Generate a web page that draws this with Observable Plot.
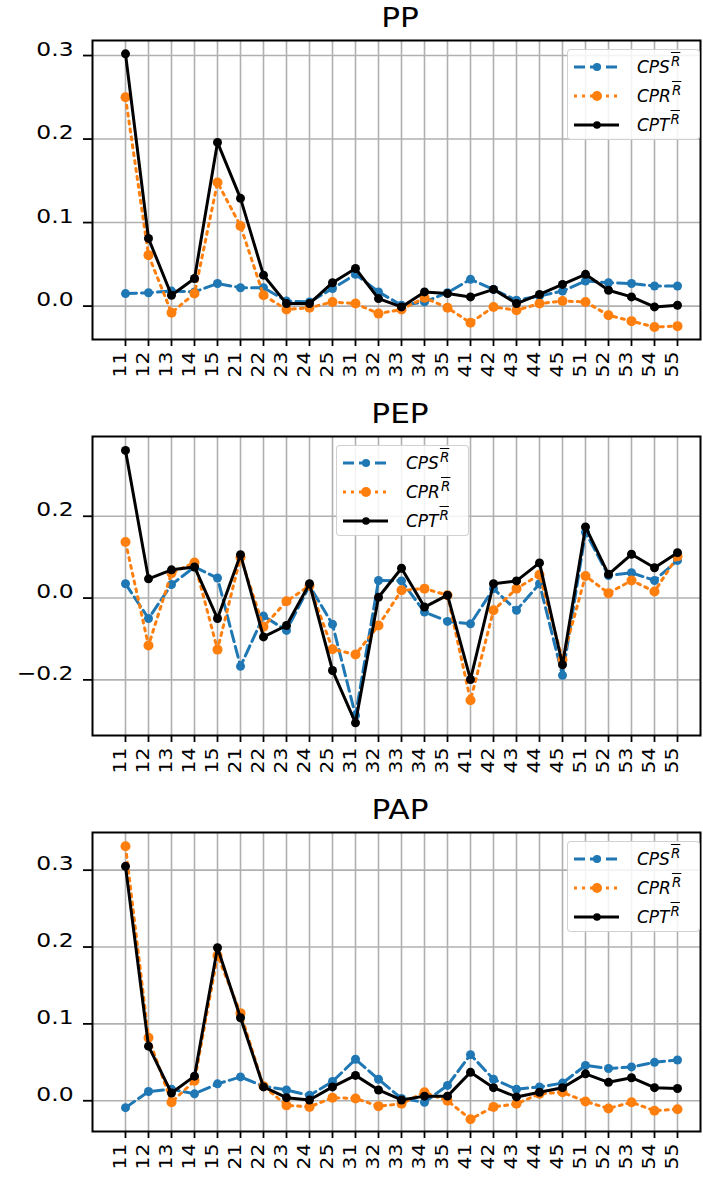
<!DOCTYPE html>
<html>
<head>
<meta charset="utf-8">
<script src="https://cdn.jsdelivr.net/npm/d3@7"></script>
<script src="https://cdn.jsdelivr.net/npm/@observablehq/plot@0.6"></script>
<style>
  body { margin: 0; background: white; font-family: "DejaVu Sans", sans-serif; }
  .panel { position: relative; width: 703px; height: 396px; }
  .panel svg { display: block; }
  .title { position: absolute; top: 3px; left: 300px; width: 200px; text-align: center;
           font-size: 26px; line-height: normal; transform: scaleX(1.2); color: #000; }
  .legend { position: absolute; width: 133px; height: 91px; box-sizing: border-box;
            border: 1px solid rgba(204,204,204,0.9); border-radius: 4px; background: rgba(255,255,255,0.85); }
  .legend svg { position: absolute; left: 0; top: 0; }
  .lrow { position: absolute; left: 69px; font-size: 17px; line-height: 20px; font-style: italic; white-space: nowrap; color: #000; }
  .lrow .sup { position: relative; top: -7px; font-size: 13.5px; text-decoration: overline; margin-left: 1px; }
</style>
</head>
<body>
<div id="root"></div>
<script>
const cats = ["11","12","13","14","15","21","22","23","24","25","31","32","33","34","35","41","42","43","44","45","51","52","53","54","55"];

const seriesNames = ["CPS", "CPR", "CPT"];
const seriesColors = ["#1f77b4", "#ff7f0e", "#000000"];

const ppCPS = [0.015,0.016,0.018,0.017,0.027,0.022,0.022,0.006,0.005,0.021,0.038,0.017,0.001,0.005,0.016,0.032,0.020,0.007,0.012,0.018,0.030,0.028,0.027,0.024,0.024];
const ppCPR = [0.250,0.061,-0.008,0.015,0.148,0.096,0.013,-0.004,-0.002,0.005,0.003,-0.009,-0.004,0.010,-0.002,-0.020,-0.001,-0.005,0.003,0.006,0.005,-0.011,-0.018,-0.025,-0.024];
const ppCPT = [0.302,0.081,0.013,0.033,0.196,0.129,0.037,0.003,0.003,0.028,0.045,0.009,-0.001,0.017,0.015,0.011,0.020,0.003,0.014,0.026,0.038,0.019,0.011,-0.001,0.001];

const pepCPS = [0.035,-0.050,0.033,0.076,0.049,-0.167,-0.044,-0.079,0.030,-0.064,-0.287,0.043,0.042,-0.034,-0.057,-0.063,0.023,-0.030,0.035,-0.189,0.161,0.055,0.062,0.043,0.092];
const pepCPR = [0.137,-0.116,0.061,0.087,-0.126,0.100,-0.070,-0.008,0.030,-0.125,-0.138,-0.067,0.019,0.023,0.007,-0.250,-0.030,0.023,0.057,-0.150,0.054,0.012,0.043,0.016,0.102];
const pepCPT = [0.361,0.047,0.069,0.076,-0.050,0.106,-0.095,-0.067,0.035,-0.177,-0.305,0.002,0.073,-0.022,0.007,-0.199,0.035,0.042,0.086,-0.163,0.174,0.058,0.107,0.074,0.111];

const papCPS = [-0.009,0.012,0.015,0.009,0.022,0.031,0.019,0.014,0.007,0.025,0.054,0.028,0.003,-0.002,0.020,0.060,0.028,0.015,0.018,0.023,0.046,0.042,0.044,0.050,0.053];
const papCPR = [0.331,0.082,-0.002,0.026,0.189,0.114,0.019,-0.006,-0.008,0.004,0.003,-0.007,-0.004,0.011,0.000,-0.024,-0.008,-0.004,0.009,0.011,-0.001,-0.010,-0.002,-0.013,-0.011];
const papCPT = [0.305,0.071,0.010,0.032,0.199,0.108,0.018,0.004,0.001,0.018,0.033,0.014,0.001,0.006,0.006,0.037,0.017,0.005,0.011,0.017,0.035,0.024,0.030,0.017,0.016];

const titles = ["PP", "PEP", "PAP"];
const yDomains = [[-0.040, 0.318], [-0.336, 0.395], [-0.040, 0.349]];
const yTicks = [[0, 0.1, 0.2, 0.3], [-0.2, 0, 0.2], [0, 0.1, 0.2, 0.3]];
const legendLeft = [567, 336, 567];

const dashes = ["11,5", "3,5", null];
const dotR = [4.5, 5, 4.5];

function stretch(svg, label, s, fontSize) {
  const g = svg.querySelector(`g[aria-label="${label}"]`);
  if (!g) return;
  if (fontSize) g.setAttribute("font-size", fontSize);
  g.querySelectorAll("text").forEach(el => {
    let t = el.getAttribute("transform") || "";
    const x = el.getAttribute("x"), y = el.getAttribute("y");
    if (x != null || y != null) {
      t += ` translate(${+x || 0},${+y || 0})`;
      el.removeAttribute("x"); el.removeAttribute("y");
    }
    el.setAttribute("transform", `${t} scale(${s},1)`);
  });
}

function makePanel(idx, cps, cpr, cpt) {
  const all = [cps, cpr, cpt];
  const rows = all.map((arr, k) => cats.map((c, i) => ({c, v: arr[i], s: seriesNames[k]})));
  const marks = [
    Plot.gridX(cats, {stroke: "#b0b0b0", strokeOpacity: 1, strokeWidth: 1.6}),
    Plot.gridY(yTicks[idx], {stroke: "#b0b0b0", strokeOpacity: 1, strokeWidth: 1.6})
  ];
  rows.forEach((r, k) => {
    marks.push(Plot.line(r, {x: "c", y: "v", stroke: seriesColors[k], strokeWidth: 3,
      strokeDasharray: dashes[k] || undefined, strokeLinejoin: "round"}));
    marks.push(Plot.dot(r, {x: "c", y: "v", fill: seriesColors[k], r: dotR[k], stroke: "none"}));
  });
  marks.push(Plot.frame({stroke: "black", strokeWidth: 2}));
  marks.push(Plot.axisX({tickSize: 7, tickPadding: 5, tickRotate: -90, textAnchor: "end",
    label: null, strokeWidth: 1.8, tickFormat: d => d}));
  marks.push(Plot.axisY({ticks: yTicks[idx], tickSize: 9, tickPadding: 10, label: null,
    strokeWidth: 1.8, tickFormat: d3.format(".1f")}));

  const svg = Plot.plot({
    width: 703, height: 396,
    marginTop: 40, marginBottom: 57, marginLeft: 92, marginRight: 3,
    style: {fontFamily: "DejaVu Sans", fontSize: "18px", color: "black", background: "white", overflow: "visible"},
    x: {type: "point", domain: cats, padding: 0, insetLeft: 28, insetRight: 19},
    y: {domain: yDomains[idx]},
    marks
  });
  stretch(svg, "y-axis tick label", 1.2, "19.5px");
  stretch(svg, "x-axis tick label", 1.2, "17px");

  const div = document.createElement("div");
  div.className = "panel";
  div.appendChild(svg);

  const t = document.createElement("div");
  t.className = "title";
  t.textContent = titles[idx];
  div.appendChild(t);

  const leg = document.createElement("div");
  leg.className = "legend";
  leg.style.left = legendLeft[idx] + "px";
  leg.style.top = "49px";
  const ns = "http://www.w3.org/2000/svg";
  const ls = document.createElementNS(ns, "svg");
  ls.setAttribute("width", 64); ls.setAttribute("height", 91);
  seriesNames.forEach((name, k) => {
    const yy = 17 + 29 * k;
    const line = document.createElementNS(ns, "line");
    line.setAttribute("x1", 6); line.setAttribute("x2", 51);
    line.setAttribute("y1", yy); line.setAttribute("y2", yy);
    line.setAttribute("stroke", seriesColors[k]); line.setAttribute("stroke-width", 3);
    if (dashes[k]) line.setAttribute("stroke-dasharray", dashes[k]);
    ls.appendChild(line);
    const c = document.createElementNS(ns, "circle");
    c.setAttribute("cx", 29); c.setAttribute("cy", yy); c.setAttribute("r", [4, 5, 3.8][k]);
    c.setAttribute("fill", seriesColors[k]);
    ls.appendChild(c);
    const row = document.createElement("div");
    row.className = "lrow";
    row.style.top = (6.5 + 29 * k) + "px";
    row.innerHTML = `${name}<span class="sup">R</span>`;
    leg.appendChild(row);
  });
  leg.appendChild(ls);
  div.appendChild(leg);
  return div;
}

const root = document.getElementById("root");
root.appendChild(makePanel(0, ppCPS, ppCPR, ppCPT));
root.appendChild(makePanel(1, pepCPS, pepCPR, pepCPT));
root.appendChild(makePanel(2, papCPS, papCPR, papCPT));
</script>
</body>
</html>
